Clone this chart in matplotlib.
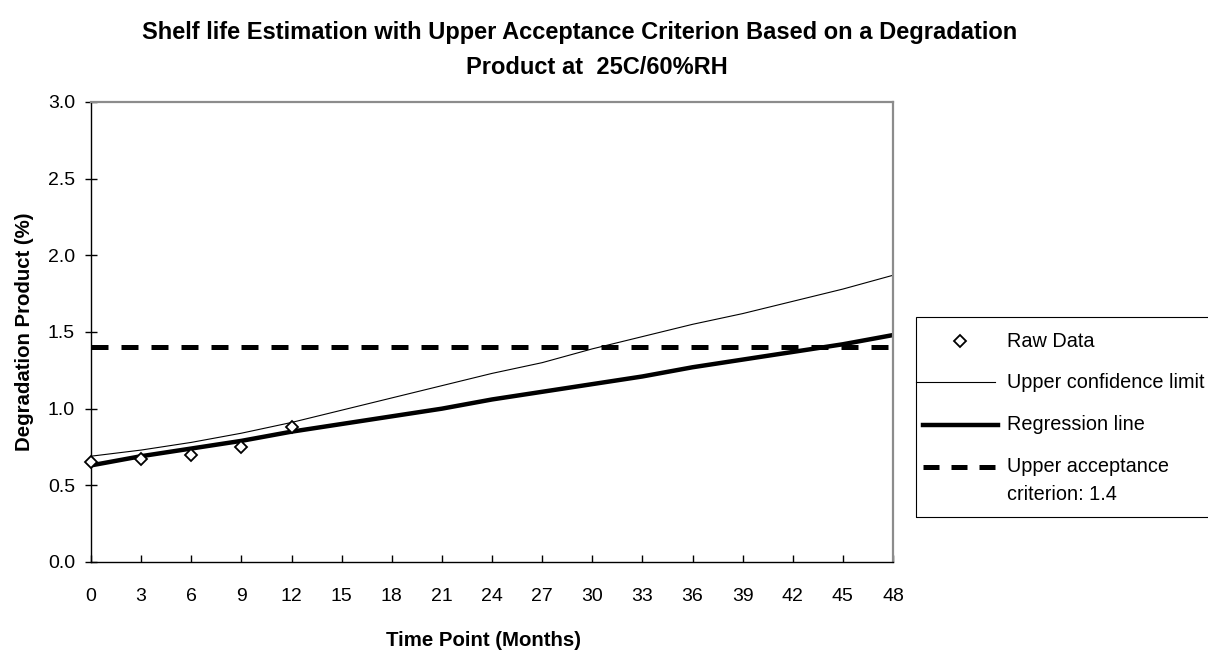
import matplotlib
matplotlib.use("Agg")
import matplotlib.pyplot as plt
from matplotlib.lines import Line2D
from matplotlib.patches import Rectangle

# values
months = [0, 3, 6, 9, 12, 15, 18, 21, 24, 27, 30, 33, 36, 39, 42, 45, 48]
regression = [0.63, 0.69, 0.74, 0.79, 0.85, 0.90, 0.95, 1.00, 1.06, 1.11,
              1.16, 1.21, 1.27, 1.32, 1.37, 1.42, 1.48]
upper_conf = [0.69, 0.73, 0.78, 0.84, 0.91, 0.99, 1.07, 1.15, 1.23, 1.30,
              1.39, 1.47, 1.55, 1.62, 1.70, 1.78, 1.87]
raw_months = [0, 3, 6, 9, 12]
raw_values = [0.65, 0.67, 0.70, 0.75, 0.88]
criterion = 1.4

x_ticks = list(range(0, 49, 3))
y_ticks = [0.0, 0.5, 1.0, 1.5, 2.0, 2.5, 3.0]
legend_labels = ["Raw Data", "Upper confidence limit", "Regression line",
                 "Upper acceptance\ncriterion: 1.4"]

W, H = 1208, 653
plt.rcParams["font.family"] = ["Liberation Sans", "DejaVu Sans"]


def fx(x):
    return x / W


def fy(y):
    return 1 - y / H


def main():
    fig = plt.figure(figsize=(W / 100, H / 100), dpi=100)
    left, right, top, bottom = 91, 893, 102, 562
    ax = fig.add_axes([fx(left), fy(bottom), fx(right - left), (bottom - top) / H])

    ax.plot(months, upper_conf, color="black", lw=0.8)
    ax.plot(months, regression, color="black", lw=3.2, solid_capstyle="butt")
    ax.plot([0, 48], [criterion, criterion], color="black", lw=3.6, dashes=(3.4, 2.6))
    ax.plot(raw_months, raw_values, ls="none", marker="D", ms=6, mfc="white",
            mec="black", mew=1.3, zorder=5, clip_on=False)

    ax.set_xlim(0, 48)
    ax.set_ylim(0, 3)
    ax.set_xticks(x_ticks)
    ax.set_yticks(y_ticks)
    ax.set_yticklabels([f"{v:.1f}" for v in y_ticks])
    ax.tick_params(axis="y", direction="inout", length=9, width=1, pad=7, labelsize=14)
    ax.tick_params(axis="x", direction="in", length=5, width=1, pad=19, labelsize=14)

    for s in ("left", "bottom"):
        ax.spines[s].set_color("black")
        ax.spines[s].set_linewidth(1)
    for s in ("top", "right"):
        ax.spines[s].set_color("#8c8c8c")
        ax.spines[s].set_linewidth(1.6)

    ax.set_xlabel("Time Point (Months)", fontsize=14.7, fontweight="bold", va="center")
    ax.xaxis.set_label_coords((484 - left) / (right - left), -(641 - bottom) / (bottom - top))
    ax.set_ylabel("Degradation Product (%)", fontsize=14.7, fontweight="bold", va="center")
    ax.yaxis.set_label_coords(-(left - 25) / (right - left), 0.5)

    fig.text(fx(580), fy(32), "Shelf life Estimation with Upper Acceptance Criterion Based on a Degradation",
             ha="center", va="center", fontsize=17, fontweight="bold")
    fig.text(fx(597), fy(67), "Product at  25C/60%RH",
             ha="center", va="center", fontsize=17, fontweight="bold")

    # legend box drawn in figure space, running past the right edge like the original
    fig.add_artist(Rectangle((fx(916), fy(517)), fx(1240 - 916), (517 - 317) / H,
                             transform=fig.transFigure, fill=False, ec="black", lw=0.8))
    fig.add_artist(Line2D([fx(960)], [fy(341)], ls="none", marker="D", ms=6, mfc="white",
                          mec="black", mew=1.3, transform=fig.transFigure))
    fig.add_artist(Line2D([fx(916), fx(995)], [fy(382)] * 2, color="black", lw=0.8,
                          transform=fig.transFigure))
    fig.add_artist(Line2D([fx(923), fx(998)], [fy(425)] * 2, color="black", lw=3.2,
                          transform=fig.transFigure))
    fig.add_artist(Line2D([fx(923), fx(999)], [fy(467)] * 2, color="black", lw=3.6,
                          dashes=(3.2, 2.4), transform=fig.transFigure))
    ys = [341, 382, 425, 467]
    for lab, y in zip(legend_labels, ys):
        for i, part in enumerate(lab.split("\n")):
            fig.text(fx(1007), fy(y + 28 * i), part, ha="left", va="center", fontsize=14.3)

    fig.savefig("out.png", dpi=100)


if __name__ == "__main__":
    main()
